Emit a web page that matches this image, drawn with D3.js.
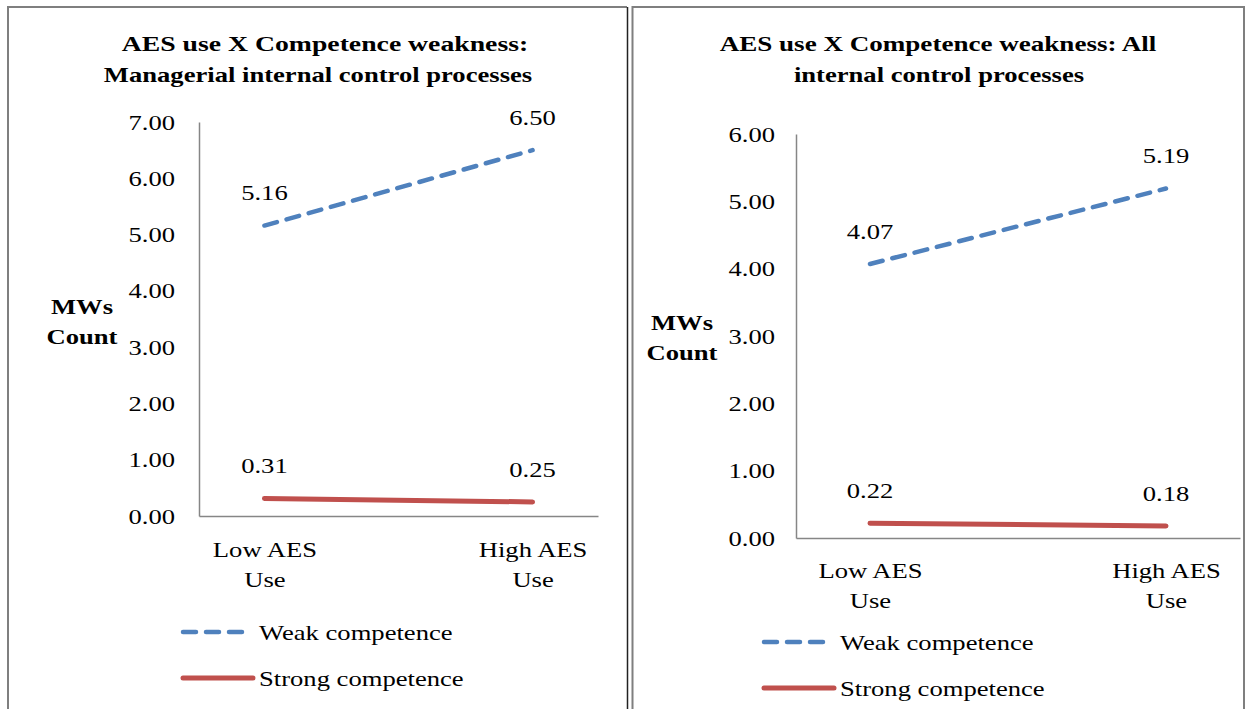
<!DOCTYPE html>
<html>
<head>
<meta charset="utf-8">
<script src="https://cdn.jsdelivr.net/npm/d3@7"></script>
<style>
  html, body { margin: 0; padding: 0; background: #fff; }
  svg { display: block; }
  text { font-family: "Liberation Serif", "Times New Roman", Times, serif; fill: #000; }
</style>
</head>
<body>
<svg id="chart" width="1246" height="709"></svg>
<script>
// ---- data ----
const categories = ["Low AES Use", "High AES Use"];
const categoryLines = [["Low AES", "Use"], ["High AES", "Use"]];
const seriesNames = ["Weak competence", "Strong competence"];
const titleManagerial = ["AES use X Competence weakness:", "Managerial internal control processes"];
const titleAll = ["AES use X Competence weakness: All", "internal control processes"];
const weakManagerial = [5.16, 6.50];
const strongManagerial = [0.31, 0.25];
const weakAll = [4.07, 5.19];
const strongAll = [0.22, 0.18];
const ticksManagerial = [0, 1, 2, 3, 4, 5, 6, 7];
const ticksAll = [0, 1, 2, 3, 4, 5, 6];
const yAxisTitle = ["MWs", "Count"];

// ---- layout ----
const FONT = '"Liberation Serif", "Times New Roman", Times, serif';
const SX = 1.21; // horizontal stretch of the reference text
const svg = d3.select("#chart");
const BLUE = "#4F81BD", RED = "#C0504D", AXIS = "#868686";

function stretch(sel, ax, sx) {
  const s = sx || SX;
  sel.attr("transform", `translate(${ax},0) scale(${s},1) translate(${-ax},0)`);
}

// panel borders
const borderColor = "#7f7f7f";
svg.append("line").attr("x1", 8).attr("x2", 8).attr("y1", 6).attr("y2", 709).attr("stroke", borderColor).attr("stroke-width", 2);
svg.append("line").attr("x1", 7).attr("x2", 627).attr("y1", 7).attr("y2", 7).attr("stroke", borderColor).attr("stroke-width", 2);
svg.append("line").attr("x1", 627.5).attr("x2", 627.5).attr("y1", 7).attr("y2", 709).attr("stroke", "#222").attr("stroke-width", 1.5);
svg.append("line").attr("x1", 632.5).attr("x2", 632.5).attr("y1", 6).attr("y2", 709).attr("stroke", borderColor).attr("stroke-width", 2);
svg.append("line").attr("x1", 632).attr("x2", 1245).attr("y1", 7).attr("y2", 7).attr("stroke", borderColor).attr("stroke-width", 2);
svg.append("line").attr("x1", 1244).attr("x2", 1244).attr("y1", 6).attr("y2", 709).attr("stroke", borderColor).attr("stroke-width", 2);

function drawPanel(cfg) {
  const g = svg.append("g");
  const y = d3.scaleLinear().domain([0, d3.max(cfg.ticks)]).range([cfg.bottom, cfg.top]);
  const x = d3.scalePoint().domain(categories).range([cfg.left, cfg.right]).padding(cfg.pad);

  // title
  cfg.title.forEach((line, i) => {
    const t = g.append("text").attr("text-anchor", "middle").attr("font-weight", "bold").attr("font-size", 22)
      .attr("x", cfg.titleX[i]).attr("y", cfg.titleY + i * 31).text(line);
    stretch(t, cfg.titleX[i], cfg.titleSX[i]);
  });

  // y axis
  const ya = g.append("g").attr("transform", `translate(${cfg.left},0)`)
    .call(d3.axisLeft(y).tickValues(cfg.ticks).tickFormat(d3.format(".2f")).tickSize(0).tickPadding(cfg.tickPad));
  ya.attr("font-family", FONT);
  ya.select(".domain").attr("stroke", AXIS).attr("stroke-width", 1.5);
  ya.selectAll(".tick text").attr("font-size", 22).attr("fill", "#000")
    .each(function() { stretch(d3.select(this), -cfg.tickPad); });

  // x axis
  const xa = g.append("g").attr("transform", `translate(0,${cfg.bottom})`)
    .call(d3.axisBottom(x).tickSize(0).tickFormat(""));
  xa.attr("font-family", FONT);
  xa.select(".domain").attr("stroke", AXIS).attr("stroke-width", 1.5);
  xa.selectAll(".tick").each(function(d, i) {
    const tk = d3.select(this);
    categoryLines[i].forEach((ln, j) => {
      const tx = tk.append("text").attr("text-anchor", "middle").attr("font-size", 22).attr("fill", "#000")
        .attr("x", 0).attr("y", cfg.catDy + j * 30).text(ln);
      stretch(tx, 0);
    });
  });

  // y axis title
  yAxisTitle.forEach((ln, i) => {
    const yt = g.append("text").attr("text-anchor", "middle").attr("font-weight", "bold").attr("font-size", 22)
      .attr("x", cfg.yTitleX).attr("y", cfg.yTitleY + i * 30).text(ln);
    stretch(yt, cfg.yTitleX);
  });

  const line = d3.line().x((d, i) => x(categories[i])).y(d => y(d));
  const series = [
    { name: seriesNames[0], values: cfg.weak, color: BLUE, dash: "13,10", width: 4.5 },
    { name: seriesNames[1], values: cfg.strong, color: RED, dash: null, width: 5 }
  ];
  series.forEach(s => {
    g.append("path").datum(s.values).attr("d", line).attr("fill", "none")
      .attr("stroke", s.color).attr("stroke-width", s.width).attr("stroke-linecap", "round")
      .attr("stroke-dasharray", s.dash);
    g.selectAll(null).data(s.values).enter().append("text")
      .attr("x", (d, i) => x(categories[i]))
      .attr("y", d => y(d) - 33)
      .attr("dy", "0.35em")
      .attr("text-anchor", "middle").attr("font-size", 22)
      .text(d => d3.format(".2f")(d))
      .each(function(d, i) { stretch(d3.select(this), x(categories[i])); });
  });

  // legend
  series.forEach((s, i) => {
    const ly = cfg.legendY + i * 46;
    g.append("line").attr("x1", cfg.legendX).attr("x2", cfg.legendX + (s.dash ? 63 : 70))
      .attr("y1", ly).attr("y2", ly)
      .attr("stroke", s.color).attr("stroke-width", s.width).attr("stroke-linecap", "round")
      .attr("stroke-dasharray", s.dash);
    const lt = g.append("text").attr("x", cfg.legendX + 76).attr("y", ly + 8).attr("font-size", 22).text(s.name);
    stretch(lt, cfg.legendX + 76);
  });
}

drawPanel({
  title: titleManagerial, titleX: [325, 318], titleSX: [1.26, 1.21], titleY: 51,
  ticks: ticksManagerial, weak: weakManagerial, strong: strongManagerial,
  left: 199, right: 598, top: 122, bottom: 516, pad: 0.244, tickPad: 24,
  catDy: 41, yTitleX: 82, yTitleY: 314,
  legendX: 183, legendY: 632
});

drawPanel({
  title: titleAll, titleX: [938, 939], titleSX: [1.23, 1.21], titleY: 51,
  ticks: ticksAll, weak: weakAll, strong: strongAll,
  left: 796, right: 1240, top: 134, bottom: 538, pad: 0.25, tickPad: 21,
  catDy: 40, yTitleX: 682, yTitleY: 330,
  legendX: 764, legendY: 642
});
</script>
</body>
</html>
